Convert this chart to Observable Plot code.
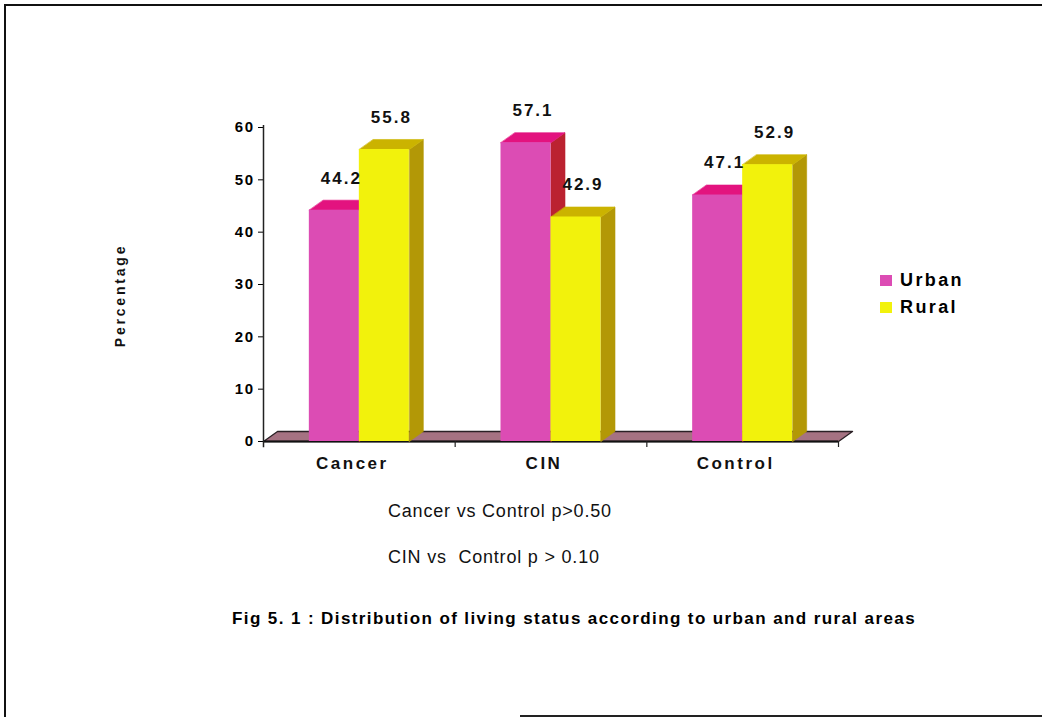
<!DOCTYPE html>
<html>
<head>
<meta charset="utf-8">
<script src="https://cdn.jsdelivr.net/npm/d3@7"></script>
<script src="https://cdn.jsdelivr.net/npm/@observablehq/plot@0.6"></script>
<style>
  body { margin: 0; background: #fff; font-family: "Liberation Sans", Arial, sans-serif; }
  #page { position: relative; width: 1042px; height: 717px; overflow: hidden; background: #fff; }
  .frame-left { position: absolute; left: 4px; top: 5px; width: 2px; height: 712px; background: #111; }
  .frame-top { position: absolute; left: 4px; top: 4px; width: 1038px; height: 2px; background: #111; }
  .frame-bottom { position: absolute; left: 520px; top: 715px; width: 522px; height: 2px; background: #222; }
  #chart { position: absolute; left: 0; top: 0; }
  .legend { position: absolute; left: 880px; top: 267px; font-weight: bold; font-size: 18px; letter-spacing: 2.4px; color: #000; }
  .legend .row { display: flex; align-items: center; height: 27px; }
  .legend .sw { display: inline-block; width: 12px; height: 11px; margin-right: 8px; }
  .note { position: absolute; left: 388px; font-size: 18px; letter-spacing: 0.8px; color: #111; white-space: pre; }
  .caption { position: absolute; left: 232px; top: 609px; font-size: 17px; font-weight: bold; letter-spacing: 1.4px; color: #000; white-space: pre; }
</style>
</head>
<body>
<div id="page">
  <div class="frame-left"></div>
  <div class="frame-top"></div>
  <div class="frame-bottom"></div>
  <div id="chart"></div>
  <div class="legend" id="legend"></div>
  <div class="note" id="note1" style="top:501px"></div>
  <div class="note" id="note2" style="top:547px"></div>
  <div class="caption" id="caption"></div>
</div>
<script>
// Data
const categories = ["Cancer", "CIN", "Control"];
const urban = [44.2, 57.1, 47.1];
const rural = [55.8, 42.9, 52.9];
const seriesNames = ["Urban", "Rural"];
const yTicks = [0, 10, 20, 30, 40, 50, 60];
const notes = ["Cancer vs Control p>0.50", "CIN vs  Control p > 0.10"];
const caption = "Fig 5. 1 : Distribution of living status according to urban and rural areas";
const yTitle = "Percentage";

// Face colours for the pseudo-3D bars
const palette = {
  Urban: { front: "#dc4cb4", top: "#e3137f", side: "#bb2230" },
  Rural: { front: "#f2f20c", top: "#cbb300", side: "#b39806" }
};

// Frame geometry
const W = 1042, H = 480;
const mL = 263, mR = 204, mT = 127, mB = 39;
const kx = (W - mL - mR) / categories.length;   // px per category
const ky = (H - mT - mB) / 60;                   // px per percent
const depthX = 14 / kx, depthY = 10 / ky;        // receding offset in data units
const barW = 50 / kx;

const values = {Urban: urban, Rural: rural};
const bars = categories.flatMap((cat, i) => seriesNames.map((s, j) => {
  const c = i + 0.5;
  return {cat, series: s, value: values[s][i], x1: j === 0 ? c - barW : c, x2: j === 0 ? c : c + barW};
}));

function topFace(b) {
  const id = b.cat + b.series + "top";
  return [[b.x1, b.value], [b.x2, b.value], [b.x2 + depthX, b.value + depthY], [b.x1 + depthX, b.value + depthY]]
    .map(([x, y]) => ({id, x, y}));
}
function sideFace(b) {
  const id = b.cat + b.series + "side";
  return [[b.x2, 0], [b.x2 + depthX, depthY], [b.x2 + depthX, b.value + depthY], [b.x2, b.value]]
    .map(([x, y]) => ({id, x, y}));
}
const floor = [[0, 0], [categories.length, 0], [categories.length + depthX, depthY], [depthX, depthY]]
  .map(([x, y]) => ({id: "floor", x, y}));

function seriesMarks(s) {
  const bs = bars.filter(b => b.series === s);
  const col = palette[s];
  return [
    Plot.line(bs.flatMap(sideFace), {x: "x", y: "y", z: "id", curve: "linear-closed", fill: col.side, stroke: col.side, strokeWidth: 0.6}),
    Plot.line(bs.flatMap(topFace), {x: "x", y: "y", z: "id", curve: "linear-closed", fill: col.top, stroke: col.top, strokeWidth: 0.6}),
    Plot.rectY(bs, {x1: "x1", x2: "x2", y1: 0, y2: "value", fill: col.front})
  ];
}

const chart = Plot.plot({
  width: W,
  height: H,
  marginLeft: mL,
  marginRight: mR,
  marginTop: mT,
  marginBottom: mB,
  style: {fontFamily: "'Liberation Sans', Arial, sans-serif", fontSize: "15px", fontWeight: "bold", color: "#000", background: "transparent", overflow: "visible"},
  x: {domain: [0, categories.length], axis: null},
  y: {domain: [0, 60], ticks: yTicks, tickSize: 5, tickPadding: 4, label: null},
  marks: [
    // floor
    Plot.line(floor, {x: "x", y: "y", z: "id", curve: "linear-closed", fill: "#a57282", stroke: "#2a2025", strokeWidth: 1.3}),
    Plot.ruleY([0], {x1: 0, x2: categories.length, stroke: "#111", strokeWidth: 2}),
    // category boundary ticks below the floor
    Plot.ruleX(d3.range(1, categories.length + 1), {y1: 0, y2: -1.15, stroke: "#222", strokeWidth: 1.2}),
    // vertical axis line
    Plot.ruleX([0], {y1: -1.2, y2: 60.4, stroke: "#222", strokeWidth: 1.5}),
    ...seriesMarks("Urban"),
    ...seriesMarks("Rural"),
    // value labels
    Plot.text(bars, {x: d => (d.x1 + d.x2) / 2 + depthX / 2, y: d => d.value + depthY, dy: -22,
      text: d => d.value.toFixed(1), fontSize: 17, fontWeight: "bold", fill: "#111"}),
    // category labels
    Plot.text(categories, {x: (d, i) => i + 0.5, y: 0, dy: 22, dx: -7, text: d => d,
      fontSize: 17, fontWeight: "bold", fill: "#111"}),
    // y-axis title
    Plot.text([yTitle], {frameAnchor: "left", dx: -143, dy: 11, rotate: -90, textAnchor: "middle", text: d => d,
      fontSize: 14, fontWeight: "bold", fill: "#111"})
  ]
});

document.getElementById("chart").appendChild(chart);

// Letter spacing per text group
const valueLabels = new Set(bars.map(d => d.value.toFixed(1)));
const tickLabels = new Set(yTicks.map(String));
d3.select(chart).selectAll("text").each(function () {
  const t = this.textContent;
  let ls = null;
  if (valueLabels.has(t)) ls = "2px";
  else if (categories.includes(t)) ls = "2.5px";
  else if (t === yTitle) ls = "2.8px";
  else if (tickLabels.has(t)) ls = "1.5px";
  if (ls) d3.select(this).style("letter-spacing", ls);
});

// Legend
const legend = d3.select("#legend");
seriesNames.forEach(s => {
  const row = legend.append("div").attr("class", "row");
  row.append("span").attr("class", "sw").style("background", palette[s].front);
  row.append("span").text(s);
});

document.getElementById("note1").textContent = notes[0];
document.getElementById("note2").textContent = notes[1];
document.getElementById("caption").textContent = caption;
</script>
</body>
</html>
